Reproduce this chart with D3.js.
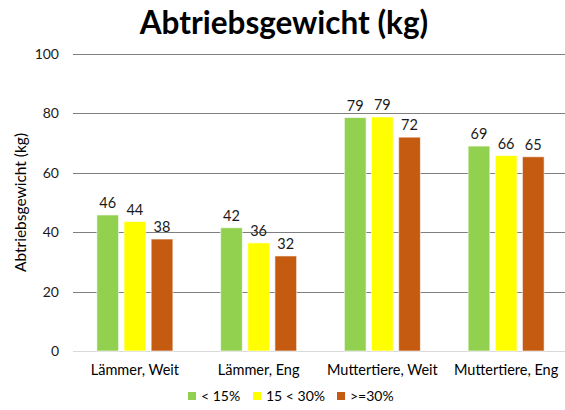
<!DOCTYPE html>
<html>
<head>
<meta charset="utf-8">
<script src="https://cdn.jsdelivr.net/npm/d3@7"></script>
<style>
  body { margin: 0; background: #fff; }
  svg { font-family: Lato, "Open Sans", sans-serif; }
</style>
</head>
<body>
<svg id="chart" width="565" height="410"></svg>
<script>
// Chart data
const categories = ['Lämmer, Weit', 'Lämmer, Eng', 'Muttertiere, Weit', 'Muttertiere, Eng'];
const seriesNames = ['< 15%', '15 < 30%', '>=30%'];
const seriesColors = ['#92D050', '#FFFF00', '#C55A11'];
const lowValues = [45.8, 41.5, 78.6, 69.0];
const midValues = [43.6, 36.4, 78.8, 65.8];
const highValues = [37.7, 32.0, 72.0, 65.4];
const yTicks = [0, 20, 40, 60, 80, 100];

const width = 565;
const height = 410;
const margin = { top: 54, right: 0, bottom: 59, left: 73 };
const chartHeight = height - margin.top - margin.bottom;

const svg = d3.select('#chart');

// Build table for rendering
const series = [lowValues, midValues, highValues];
const table = categories.map((c, i) => ({
  cat: c,
  vals: series.map((s, j) => ({ key: seriesNames[j], value: s[i], color: seriesColors[j] }))
}));

const xScale = d3.scaleBand()
  .domain(categories)
  .range([margin.left, margin.left + 495]);

const xInner = d3.scaleBand()
  .domain(seriesNames)
  .range([xScale.bandwidth() / 2 - 38, xScale.bandwidth() / 2 + 38])
  .paddingInner(0.2);

const yScale = d3.scaleLinear()
  .domain([0, 100])
  .range([margin.top + chartHeight, margin.top]);

// Gridlines
svg.append('g')
  .selectAll('line')
  .data(yTicks)
  .enter()
  .append('line')
  .attr('x1', margin.left)
  .attr('x2', width)
  .attr('y1', (d) => Math.round(yScale(d)) + 0.5)
  .attr('y2', (d) => Math.round(yScale(d)) + 0.5)
  .attr('stroke', (d) => (d === 0 ? '#d9d9d9' : '#7f7f7f'))
  .attr('stroke-width', 1);

// Y axis labels
const yAxis = svg.append('g')
  .attr('transform', `translate(${margin.left}, 0)`)
  .call(d3.axisLeft(yScale).tickValues(yTicks).tickSize(0).tickPadding(14));
yAxis.select('.domain').remove();
yAxis.selectAll('text')
  .style('font-size', '14px')
  .style('font-family', 'Lato, "Open Sans", sans-serif')
  .attr('fill', '#1a1a1a');

// Bars
const groups = svg.append('g')
  .selectAll('g')
  .data(table)
  .enter()
  .append('g')
  .attr('transform', (d) => `translate(${xScale(d.cat)}, 0)`);

groups.selectAll('rect')
  .data((d) => d.vals)
  .enter()
  .append('rect')
  .attr('x', (d) => xInner(d.key))
  .attr('y', (d) => yScale(d.value))
  .attr('width', xInner.bandwidth())
  .attr('height', (d) => yScale(0) - yScale(d.value))
  .attr('fill', (d) => d.color)
  .attr('stroke', 'rgba(255,255,255,0.6)')
  .attr('stroke-width', 1);

// Data labels
groups.selectAll('text')
  .data((d) => d.vals)
  .enter()
  .append('text')
  .attr('x', (d) => xInner(d.key) + xInner.bandwidth() / 2)
  .attr('y', (d) => yScale(d.value) - 7)
  .style('text-anchor', 'middle')
  .style('font-size', '14.5px')
  .attr('fill', '#1a1a1a')
  .text((d) => Math.round(d.value));

// X axis labels
const xAxis = svg.append('g')
  .attr('transform', `translate(0, ${yScale(0)})`)
  .call(d3.axisBottom(xScale).tickSize(0).tickPadding(14));
xAxis.select('.domain').remove();
xAxis.selectAll('text')
  .style('font-size', '14.5px')
  .style('font-family', 'Lato, "Open Sans", sans-serif')
  .attr('fill', '#000');

// Y axis title
svg.append('text')
  .attr('x', -(margin.top + chartHeight / 2))
  .attr('y', 26)
  .attr('transform', 'rotate(-90)')
  .style('text-anchor', 'middle')
  .style('font-size', '15.5px')
  .text('Abtriebsgewicht (kg)');

// Title
svg.append('text')
  .attr('x', 284)
  .attr('y', 34)
  .style('text-anchor', 'middle')
  .style('font-size', '31.5px')
  .style('font-weight', 'bold')
  .text('Abtriebsgewicht (kg)');

// Legend
const legendX = [188, 253, 337];
const legend = svg.append('g')
  .selectAll('g')
  .data(seriesNames)
  .enter()
  .append('g')
  .attr('transform', (d, i) => `translate(${legendX[i]}, 392)`);

legend.append('rect')
  .attr('width', 8)
  .attr('height', 8)
  .attr('fill', (d, i) => seriesColors[i]);

legend.append('text')
  .attr('x', 13)
  .attr('y', 9)
  .style('font-size', '14px')
  .text((d) => d);
</script>
</body>
</html>
